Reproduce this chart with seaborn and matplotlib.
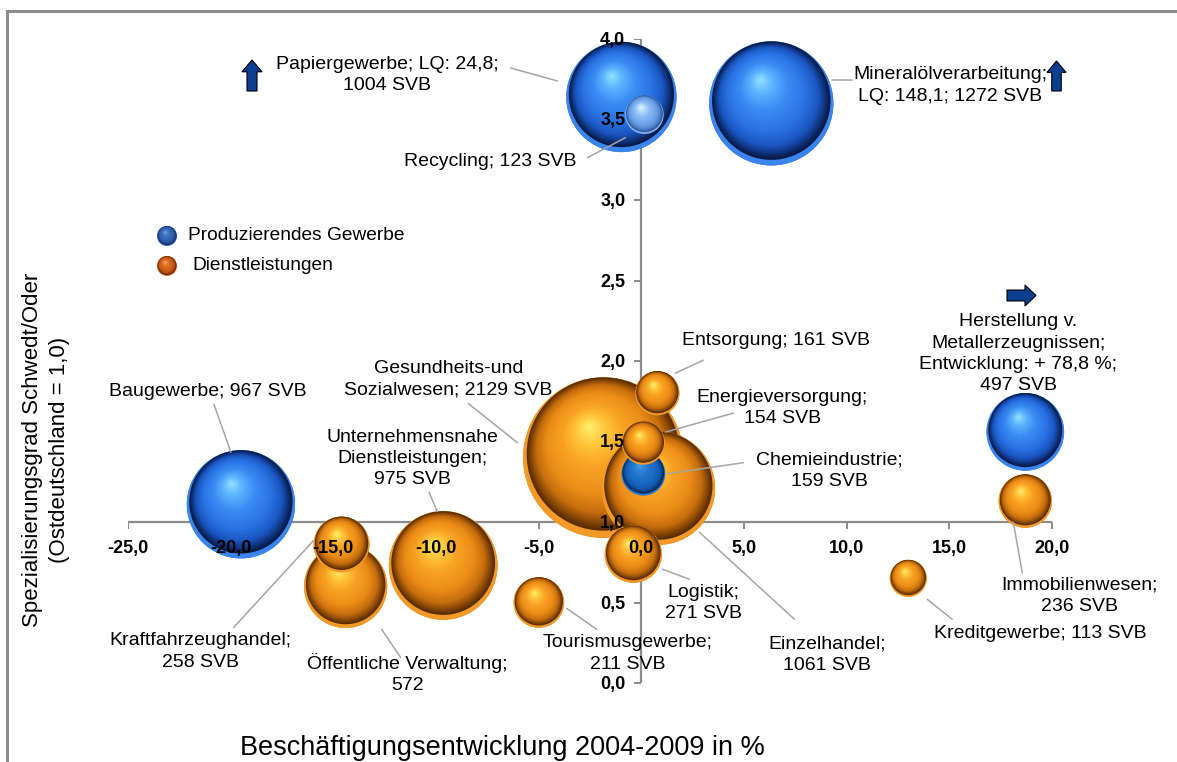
import numpy as np
import pandas as pd
import matplotlib
matplotlib.use("Agg")
import matplotlib.pyplot as plt
import seaborn as sns
from matplotlib.colors import LinearSegmentedColormap
from matplotlib.patches import Polygon, Rectangle
from matplotlib.transforms import IdentityTransform

# ---------------------------------------------------------------- data
branches = [
    "Papiergewerbe", "Mineralölverarbeitung", "Recycling",
    "Metallerzeugnisse", "Chemieindustrie", "Baugewerbe",
    "Gesundheits- und Sozialwesen", "Einzelhandel", "Entsorgung",
    "Energieversorgung", "Immobilienwesen", "Kreditgewerbe", "Logistik",
    "Tourismusgewerbe", "Unternehmensnahe Dienstleistungen",
    "Kraftfahrzeughandel", "Öffentliche Verwaltung",
]
growth = [-0.97, 6.33, 0.15, 18.7, 0.10, -19.5,
          -1.85, 0.83, 0.78, 0.10, 18.7, 13.0, -0.39,
          -4.99, -9.65, -14.6, -14.4]
lq = [3.64, 3.60, 3.53, 1.56, 1.30, 1.11,
      1.40, 1.21, 1.80, 1.49, 1.13, 0.65, 0.80,
      0.50, 0.73, 0.86, 0.60]
svb = [1004, 1272, 123, 497, 159, 967,
       2129, 1061, 161, 154, 236, 113, 271,
       211, 975, 258, 572]
sector = ["Produzierendes Gewerbe"] * 6 + ["Dienstleistungen"] * 11
labels = [
    "Papiergewerbe; LQ: 24,8;\n1004 SVB",
    "Mineralölverarbeitung;\nLQ: 148,1; 1272 SVB",
    "Recycling; 123 SVB",
    "Herstellung v.\nMetallerzeugnissen;\nEntwicklung: + 78,8 %;\n497 SVB",
    "Chemieindustrie;\n159 SVB",
    "Baugewerbe; 967 SVB",
    "Gesundheits-und\nSozialwesen; 2129 SVB",
    "Einzelhandel;\n1061 SVB",
    "Entsorgung; 161 SVB",
    "Energieversorgung;\n154 SVB",
    "Immobilienwesen;\n236 SVB",
    "Kreditgewerbe; 113 SVB",
    "Logistik;\n271 SVB",
    "Tourismusgewerbe;\n211 SVB",
    "Unternehmensnahe\nDienstleistungen;\n975 SVB",
    "Kraftfahrzeughandel;\n258 SVB",
    "Öffentliche Verwaltung;\n572",
]
x_ticks = np.arange(-25, 21, 5)
y_ticks = np.arange(0, 4.01, 0.5)
x_title = "Beschäftigungsentwicklung 2004-2009 in %"
y_title = "Spezialisierungsgrad Schwedt/Oder\n(Ostdeutschland = 1,0)"

# ------------------------------------------------------------- layout
# label centre offset and leader line (start, end) in pixels from the bubble
label_layout = {
    "Papiergewerbe": ((-234, 22), ((-111, 29), (-64, 16))),
    "Mineralölverarbeitung": ((179, 18), ((61, 23), (81, 23))),
    "Recycling": ((-154, -47), ((-57, -43), (-19, -23))),
    "Metallerzeugnisse": ((-7, 78), None),
    "Chemieindustrie": ((186, 3), ((100, 11), (24, 0))),
    "Baugewerbe": ((-33, 113), ((-27, 100), (-10, 52))),
    "Gesundheits- und Sozialwesen": ((-155, 78), ((-135, 54), (-86, 15))),
    "Einzelhandel": ((169, -167), ((41, -44), (136, -131))),
    "Entsorgung": ((119, 53), ((46, 33), (18, 20))),
    "Energieversorgung": ((139, 35), ((90, 30), (22, 11))),
    "Immobilienwesen": ((54, -95), ((-12, -21), (-3, -72))),
    "Kreditgewerbe": ((132, -55), ((19, -21), (44, -41))),
    "Logistik": ((70, -49), ((29, -15), (56, -25))),
    "Tourismusgewerbe": ((89, -51), ((28, -6), (58, -27))),
    "Unternehmensnahe Dienstleistungen": ((-31, 107), ((-14, 73), (-6, 54))),
    "Kraftfahrzeughandel": ((-141, -107), ((-108, -83), (-28, 4))),
    "Öffentliche Verwaltung": ((62, -87), ((36, -43), (55, -71))),
}

W, H, DPI = 1177, 762, 100
FONT = ["Liberation Sans", "DejaVu Sans"]

sns.set_theme(style="white")
plt.rcParams["font.family"] = FONT
plt.rcParams["text.color"] = "black"

# sphere shading palettes: (rim reflection, colour stops from rim to highlight)
PAL = {
    "blue": ("#3a84ee", ["#061a48", "#1a55bf", "#2a72e3", "#3a8cf2", "#5cb3ff", "#92e2ff"]),
    "orange": ("#f29a28", ["#5a2c00", "#c46c0e", "#ec8d18", "#f8a223", "#ffc63c", "#fff06e"]),
    "light": ("#8ab4ee", ["#2c5a9c", "#5a8ed8", "#72a6ec", "#8cbcf6", "#b4dcff", "#e0f4ff"]),
    "deep": ("#2a7ad0", ["#06285a", "#1158ad", "#1a69c0", "#2276cc", "#3088d8", "#48a0e8"]),
    "leg_blue": ("#3c6cb8", ["#14336e", "#2a55a0", "#3263b0", "#3c70bc", "#5288cc", "#7aa6de"]),
    "leg_orange": ("#e07a30", ["#6e2c00", "#b9500f", "#cf5f18", "#dc6d22", "#ec8a3c", "#f8b070"]),
}
STOPS = [0.0, 0.18, 0.38, 0.65, 0.85, 1.0]
CMAPS = {k: LinearSegmentedColormap.from_list(k, list(zip(STOPS, v[1]))) for k, v in PAL.items()}
sector_pal = {"Produzierendes Gewerbe": "blue", "Dienstleistungen": "orange"}
special_pal = {"Recycling": "light", "Chemieindustrie": "deep"}

df = pd.DataFrame({"branch": branches, "growth": growth, "lq": lq,
                   "svb": svb, "sector": sector, "label": labels})
df = df.sort_values("svb", ascending=False).reset_index(drop=True)

fig = plt.figure(figsize=(W / DPI, H / DPI), dpi=DPI)
ax = fig.add_axes([128 / W, 1 - 683 / H, (1052 - 128) / W, (683 - 39) / H])
ax.set_xlim(x_ticks[0], x_ticks[-1])
ax.set_ylim(y_ticks[0], y_ticks[-1])
ax.axis("off")

# bubble area proportional to SVB
svb_max = max(svb)
s_max = (2 * 1.74 * np.sqrt(svb_max) * 72 / DPI) ** 2
sns.scatterplot(data=df, x="growth", y="lq", hue="sector",
                palette={k: PAL[v][1][2] for k, v in sector_pal.items()},
                size="svb", sizes=(0, s_max), size_norm=(0, svb_max),
                legend=False, linewidth=0, ax=ax, zorder=2, clip_on=False)

ppx = ax.transData.transform((1, 0))[0] - ax.transData.transform((0, 0))[0]
ppy = ax.transData.transform((0, 1))[1] - ax.transData.transform((0, 0))[1]


def sphere(cx, cy, r, pal_key, z, n=44):
    """Shaded sphere built from stacked discs (offsets in pixels)."""
    rim, _ = PAL[pal_key]
    cmap = CMAPS[pal_key]
    hx, hy = -0.18 * r, 0.34 * r
    xs, ys, ss, cs = [cx], [cy], [(2 * r * 0.72) ** 2], [rim]
    r0, oy = 0.955 * r, 0.045 * r
    for j in range(n + 1):
        t = j / n
        rad = max(r0 * (1 - t) ** 0.85, 0.6)
        xs.append(cx + (t * hx) / ppx)
        ys.append(cy + (oy + t * hy) / ppy)
        ss.append((2 * rad * 0.72) ** 2)
        cs.append(cmap(t))
    ax.scatter(xs, ys, s=ss, c=cs, linewidths=0, zorder=z, clip_on=False)


for i, row in df.iterrows():
    r_px = np.sqrt(s_max * row.svb / svb_max) / 2 / 0.72
    key = special_pal.get(row.branch, sector_pal[row.sector])
    sphere(row.growth, row.lq, r_px, key, 3 + i * 0.01)

# axes lines through the cross point (x axis at LQ = 1, y axis at growth = 0)
axis_col = "#8c8c8c"
ax.plot([x_ticks[0], x_ticks[-1]], [1, 1], color=axis_col, lw=1.6, zorder=1.5)
ax.plot([0, 0], [y_ticks[0], y_ticks[-1]], color=axis_col, lw=1.6, zorder=1.5)
ax.plot(x_ticks, np.ones_like(x_ticks), ls="none", marker=matplotlib.markers.TICKDOWN,
        ms=5, mew=1.4, color=axis_col, zorder=1.5)
ax.plot(np.zeros_like(y_ticks), y_ticks, ls="none", marker=matplotlib.markers.TICKLEFT,
        ms=5, mew=1.4, color=axis_col, zorder=1.5)


def fmt(v):
    return f"{v:.1f}".replace(".", ",")


for xt in x_ticks:
    ax.annotate(fmt(xt), (xt, 1), xytext=(0, -27), textcoords="offset pixels",
                ha="center", va="center", fontsize=13, fontweight="bold", zorder=20)
for yt in y_ticks:
    ax.annotate(fmt(yt), (0, yt), xytext=(-16, -1.5), textcoords="offset pixels",
                ha="right", va="center", fontsize=13, fontweight="bold", zorder=20)

# data labels with leader lines
for _, row in df.iterrows():
    (tx, ty), leader = label_layout[row.branch]
    ax.annotate(row.label, (row.growth, row.lq), xytext=(tx, ty),
                textcoords="offset pixels", ha="center", va="center",
                multialignment="center", fontsize=14, linespacing=1.34, zorder=20)
    if leader is not None:
        (x1, y1), (x2, y2) = leader
        ax.plot([row.growth + x1 / ppx, row.growth + x2 / ppx],
                [row.lq + y1 / ppy, row.lq + y2 / ppy],
                color="#a6a6a6", lw=1.1, zorder=19, clip_on=False)

# legend
inv = ax.transData.inverted()
for (py, key, text, tx) in [(236, "leg_blue", "Produzierendes Gewerbe", 188),
                            (266, "leg_orange", "Dienstleistungen", 192)]:
    lx, ly = inv.transform((167, H - py))
    sphere(lx, ly, 10, key, 30, n=12)
    fig.text(tx / W, 1 - py / H, text, fontsize=13.8, va="center", ha="left")

# axis titles
fig.text(502 / W, 1 - 748 / H, x_title, fontsize=19.5, ha="center", va="center")
fig.text(46 / W, 1 - 450 / H, y_title, fontsize=16, ha="center", va="center",
         rotation=90, multialignment="center", linespacing=1.35)


# block arrows marking values beyond the axis range
def block_arrow(pts):
    fig.add_artist(Polygon([(px, H - py) for px, py in pts], closed=True,
                           facecolor="#0b3d91", edgecolor="black", lw=0.8,
                           transform=IdentityTransform(), zorder=40))


def up_arrow(x0, x1, y0, y1):
    xm = (x0 + x1) / 2
    hw = (x1 - x0) * 0.25
    yh = y0 + (y1 - y0) * 0.38
    block_arrow([(xm, y0), (x1, yh), (xm + hw, yh), (xm + hw, y1),
                 (xm - hw, y1), (xm - hw, yh), (x0, yh)])


def right_arrow(x0, x1, y0, y1):
    ym = (y0 + y1) / 2
    hh = (y1 - y0) * 0.26
    xh = x1 - (x1 - x0) * 0.38
    block_arrow([(x1, ym), (xh, y1), (xh, ym + hh), (x0, ym + hh),
                 (x0, ym - hh), (xh, ym - hh), (xh, y0)])


up_arrow(242, 262, 60, 91)
up_arrow(1047, 1066, 61, 91)
right_arrow(1007, 1036, 285, 306)

# chart frame
fig.add_artist(Rectangle((7, -20), W + 20, H - 11 + 20, fill=False,
                         edgecolor="#8c8c8c", lw=2.2, transform=IdentityTransform()))

fig.savefig("out.png", dpi=DPI)
